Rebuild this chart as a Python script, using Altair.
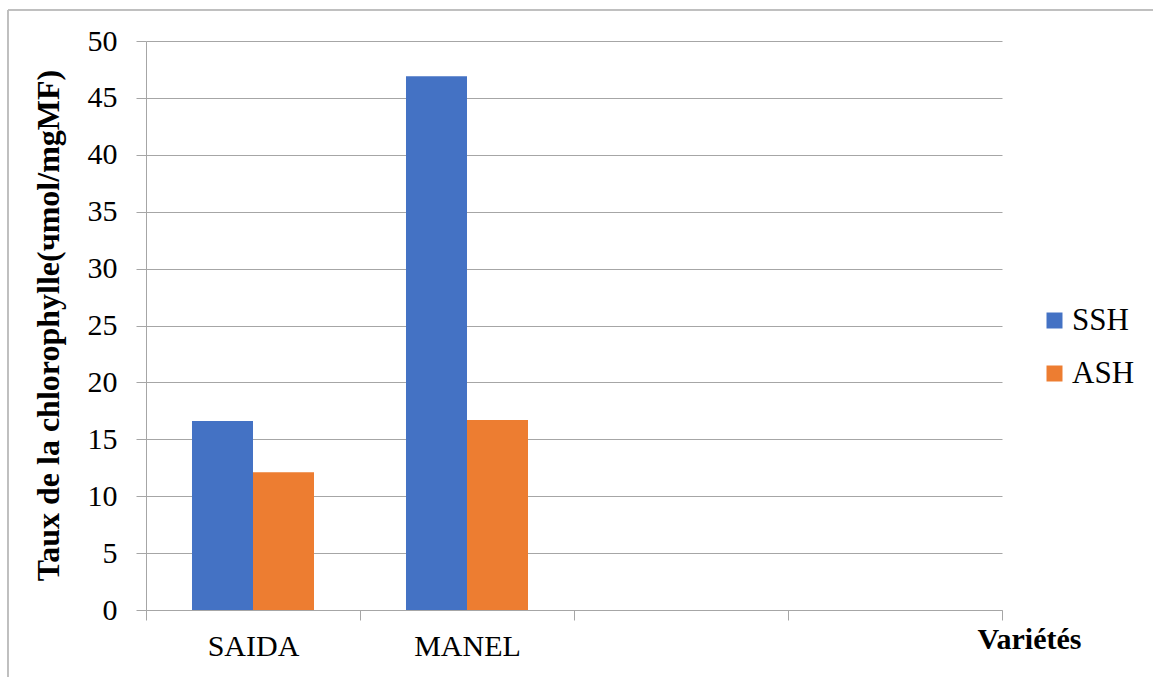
import altair as alt
import pandas as pd

categories = ["SAIDA", "MANEL", " ", "  "]
series = ["SSH", "ASH"]
ssh_values = [16.6, 46.9]
ash_values = [12.1, 16.7]
colors = ["#4472C4", "#ED7D31"]
y_ticks = [0, 5, 10, 15, 20, 25, 30, 35, 40, 45, 50]

rows = []
for i, cat in enumerate(categories[:2]):
    rows.append({"Variété": cat, "Série": "SSH", "Valeur": ssh_values[i]})
    rows.append({"Variété": cat, "Série": "ASH", "Valeur": ash_values[i]})
df = pd.DataFrame(rows)

FONT = "Liberation Serif"
GRAY = "#a6a6a6"

bars = alt.Chart(df).mark_bar().encode(
    x=alt.X(
        "Variété:N",
        scale=alt.Scale(domain=categories, paddingInner=0, paddingOuter=0),
        axis=alt.Axis(
            title="Variétés",
            titleFont=FONT, titleFontSize=30, titleFontWeight="bold", titleColor="black",
            titleX=883, titleY=38, titleAlign="center", titleBaseline="alphabetic",
            labelFont=FONT, labelFontSize=30, labelColor="black", labelAngle=0,
            labelPadding=11, tickSize=10, tickColor=GRAY, domainColor=GRAY,
            tickBand="extent", grid=False,
        ),
    ),
    xOffset=alt.XOffset("Série:N", sort=series,
                        scale=alt.Scale(domain=series, paddingInner=0, paddingOuter=0.754)),
    y=alt.Y(
        "Valeur:Q",
        scale=alt.Scale(domain=[0, 50], nice=False),
        axis=alt.Axis(
            values=y_ticks,
            title="Taux de la chlorophylle(чmol/mgMF)",
            titleFont=FONT, titleFontSize=32, titleFontWeight="bold", titleColor="black",
            titleX=-98, titleY=284, titleAlign="center", titleBaseline="middle", titleAngle=-90,
            labelFont=FONT, labelFontSize=30, labelColor="black", labelPadding=19,
            tickSize=10, tickColor=GRAY, domainColor=GRAY, gridColor=GRAY, grid=True,
        ),
    ),
    color=alt.Color(
        "Série:N",
        scale=alt.Scale(domain=series, range=colors),
        legend=alt.Legend(
            title=None, orient="none", legendX=893, legendY=264,
            symbolType="square", symbolSize=256, symbolStrokeWidth=0,
            labelFont=FONT, labelFontSize=31, labelColor="black", labelOffset=2,
            rowPadding=21, padding=0,
        ),
    ),
)

frame_top = alt.Chart(df).mark_rule(color="#bbbbbb", strokeWidth=1).encode(
    x=alt.value(-138), x2=alt.value(1007), y=alt.value(-31)
)
frame_left = alt.Chart(df).mark_rule(color="#bbbbbb", strokeWidth=1).encode(
    x=alt.value(-138), y=alt.value(-31), y2=alt.value(640)
)

chart = alt.layer(bars, frame_top, frame_left).properties(
    width=856, height=569,
    autosize=alt.AutoSizeParams(type="none"),
    padding={"left": 146, "top": 41, "right": 151, "bottom": 67},
    background="white",
).configure_view(stroke=None)

chart.save("out.html", embed_options={"renderer": "svg", "actions": False})
